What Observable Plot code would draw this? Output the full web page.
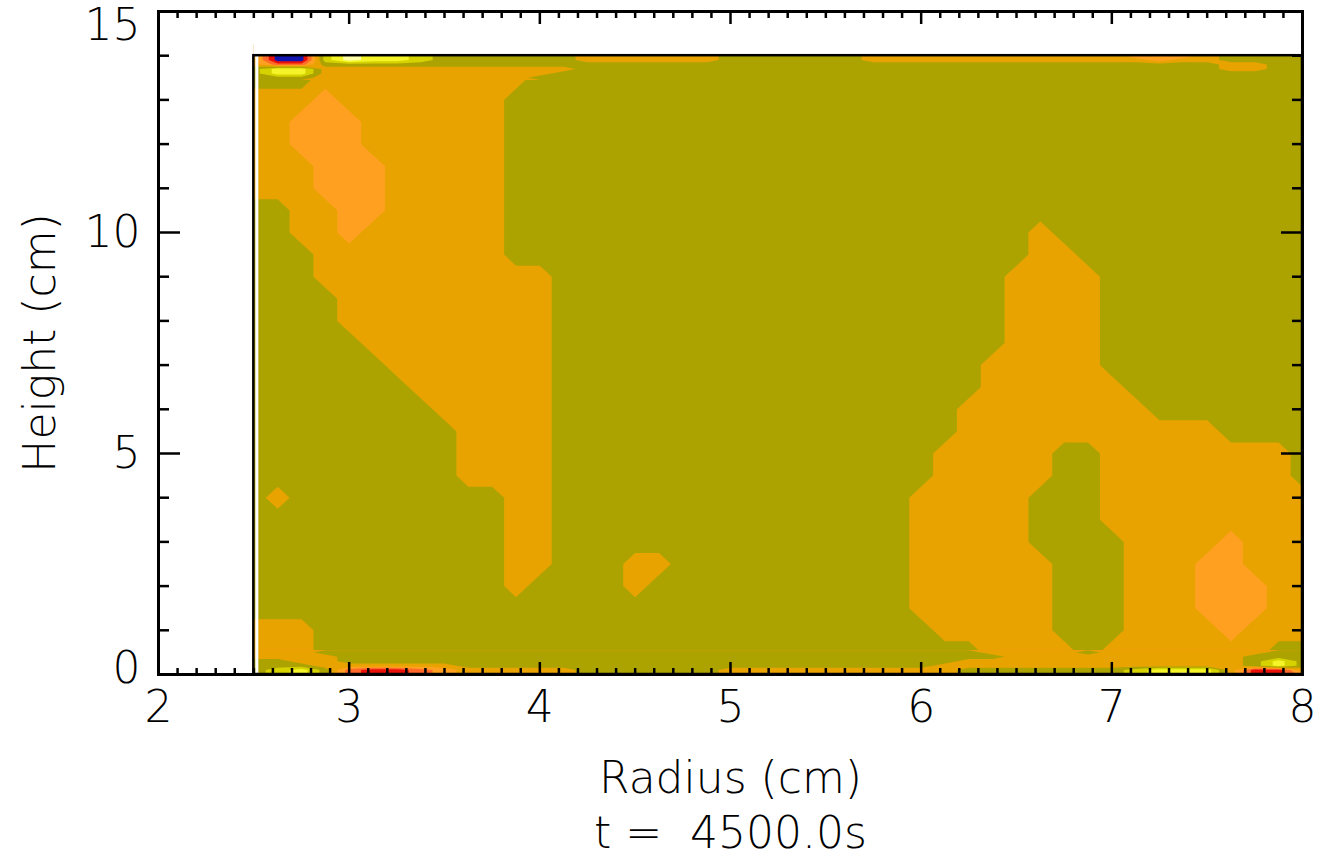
<!DOCTYPE html>
<html>
<head>
<meta charset="utf-8">
<script src="https://cdn.jsdelivr.net/npm/d3@7"></script>
<script src="https://cdn.jsdelivr.net/npm/@observablehq/plot@0.6"></script>
<style>
  html, body { margin: 0; padding: 0; background: #fff; }
  svg text { white-space: pre; }
</style>
</head>
<body>
<div id="chart"></div>
<script>
// Grid columns (radius, cm)
const radius = [2.5, 2.625, 2.75, 2.875, 3.0, 3.125, 3.25, 3.375, 3.5, 3.625, 3.75, 3.875, 4.0, 4.125, 4.25,
  4.375, 4.5, 4.625, 4.75, 4.875, 5.0, 5.125, 5.25, 5.375, 5.5, 5.625, 5.75, 5.875, 6.0, 6.125,
  6.25, 6.375, 6.5, 6.625, 6.75, 6.875, 7.0, 7.125, 7.25, 7.375, 7.5, 7.625, 7.75, 7.875, 8.0];

// Contour level of each grid cell: one string per row (bottom to top), one digit per column.
// Bottom layer, heights 0 .. 0.5 cm
const bottomHeights = [0, 0.1, 0.2, 0.3, 0.4, 0.5];
const bottomRows = [
  "56752" + "11234" + "44445" + "55555" + "44444" + "44444" + "55555" + "55678" + "74113",
  "56752" + "11234" + "44445" + "55555" + "44444" + "44444" + "55555" + "55677" + "74114",
  "55544" + "44445" + "55555" + "55555" + "55555" + "55554" + "44444" + "44444" + "44575",
  "55445" + "55555" + "55555" + "55555" + "55555" + "55555" + "44444" + "44444" + "44575",
  "44445" + "55555" + "55555" + "55555" + "55555" + "55555" + "55444" + "44444" + "44555",
  "44455" + "55555" + "55555" + "55555" + "55555" + "55555" + "54444" + "54444" + "44455"
];
// Interior, heights 0.5 .. 13.5 cm
const midHeights = [0.5, 1, 1.5, 2, 2.5, 3, 3.5, 4, 4.5, 5, 5.5, 6, 6.5, 7, 7.5, 8, 8.5,
  9, 9.5, 10, 10.5, 11, 11.5, 12, 12.5, 13, 13.5];
const midRows = [
  "44455" + "55555" + "55555" + "55555" + "55555" + "55555" + "54444" + "54444" + "44455",
  "44455" + "55555" + "55555" + "55555" + "55555" + "55554" + "44445" + "55444" + "43444",
  "55555" + "55555" + "55555" + "55555" + "55555" + "55544" + "44445" + "55444" + "33344",
  "55555" + "55555" + "54555" + "54555" + "55555" + "55544" + "44445" + "55444" + "33344",
  "55555" + "55555" + "54455" + "54455" + "55555" + "55544" + "44445" + "55444" + "33444",
  "55555" + "55555" + "54455" + "55555" + "55555" + "55544" + "44455" + "55444" + "43444",
  "55555" + "55555" + "54455" + "55555" + "55555" + "55544" + "44455" + "54444" + "44444",
  "54555" + "55555" + "54455" + "55555" + "55555" + "55544" + "44455" + "54444" + "44444",
  "55555" + "55554" + "44455" + "55555" + "55555" + "55554" + "44445" + "54444" + "44445",
  "55555" + "55554" + "44455" + "55555" + "55555" + "55554" + "44445" + "54444" + "44445",
  "55555" + "55554" + "44455" + "55555" + "55555" + "55555" + "44444" + "44444" + "45555",
  "55555" + "55544" + "44455" + "55555" + "55555" + "55555" + "44444" + "44455" + "55555",
  "55555" + "55444" + "44455" + "55555" + "55555" + "55555" + "54444" + "44555" + "55555",
  "55555" + "54444" + "44455" + "55555" + "55555" + "55555" + "54444" + "45555" + "55555",
  "55555" + "44444" + "44455" + "55555" + "55555" + "55555" + "55444" + "45555" + "55555",
  "55554" + "44444" + "44455" + "55555" + "55555" + "55555" + "55444" + "45555" + "55555",
  "55554" + "44444" + "44455" + "55555" + "55555" + "55555" + "55444" + "45555" + "55555",
  "55544" + "44444" + "44455" + "55555" + "55555" + "55555" + "55444" + "45555" + "55555",
  "55544" + "44444" + "45555" + "55555" + "55555" + "55555" + "55544" + "55555" + "55555",
  "55443" + "44444" + "45555" + "55555" + "55555" + "55555" + "55545" + "55555" + "55555",
  "55443" + "34444" + "45555" + "55555" + "55555" + "55555" + "55555" + "55555" + "55555",
  "44433" + "34444" + "45555" + "55555" + "55555" + "55555" + "55555" + "55555" + "55555",
  "44433" + "34444" + "45555" + "55555" + "55555" + "55555" + "55555" + "55555" + "55555",
  "44333" + "44444" + "45555" + "55555" + "55555" + "55555" + "55555" + "55555" + "55555",
  "44333" + "44444" + "45555" + "55555" + "55555" + "55555" + "55555" + "55555" + "55555",
  "44434" + "44444" + "45555" + "55555" + "55555" + "55555" + "55555" + "55555" + "55555",
  "55544" + "44444" + "44555" + "55555" + "55555" + "55555" + "55555" + "55555" + "55555"
];
// Top layer, heights 13.5 .. 14 cm
const topHeights = [13.5, 13.6, 13.7, 13.8, 13.9, 14];
const topRows = [
  "55544" + "44444" + "44555" + "55555" + "55555" + "55555" + "55555" + "55555" + "55555",
  "57744" + "44444" + "44455" + "55555" + "55555" + "55555" + "55555" + "55555" + "55555",
  "57744" + "44444" + "44445" + "55555" + "55555" + "55555" + "55555" + "55555" + "54455",
  "42255" + "55555" + "55555" + "55555" + "55555" + "55555" + "55555" + "55555" + "54455",
  "40068" + "77655" + "55554" + "44444" + "55555" + "54444" + "44444" + "44434" + "45555",
  "40068" + "77655" + "55554" + "44444" + "55555" + "54444" + "44444" + "44333" + "45555"
];

// Contour thresholds and their fill colours (lowest to highest)
const thresholds = [-0.5, 0.5, 1.5, 2.5, 3.5, 4.5, 5.5, 6.5, 7.5];
const levelColors = ["#1414b0", "#e81008", "#ff6a2a", "#ffa020", "#e8a300", "#ada300", "#d6d200", "#f4f428", "#ffffa8"];

// Axis ticks and texts
const xMajor = [2, 3, 4, 5, 6, 7, 8];
const xMinor = d3.range(21, 80).filter(d => d % 10 !== 0).map(d => d / 10);
const yMajor = [0, 5, 10, 15];
const yMinor = [1, 2, 3, 4, 6, 7, 8, 9, 11, 12, 13, 14];
const xTitle = "Radius (cm)";
const yTitle = "Height (cm)";
const caption = "t =  4500.0s";

// One filled-contour layer from a uniform block of rows (samples at cell centres)
function contourLayer(rows, hs) {
  const n = radius.length;
  const values = rows.flatMap(row => Array.from(row, c => +c));
  const dx = (radius[n - 1] - radius[0]) / (n - 1);
  const dy = (hs[hs.length - 1] - hs[0]) / (hs.length - 1);
  return Plot.contour(values, {
    width: n, height: rows.length,
    x1: radius[0] - dx / 2, x2: radius[n - 1] + dx / 2,
    y1: hs[0] - dy / 2, y2: hs[hs.length - 1] + dy / 2,
    fill: Plot.identity, thresholds, stroke: "none", clip: true
  });
}
// Interior layer also spans the bottom and top edges (covered by the finer layers)
const mainRows = [bottomRows[0], ...midRows, topRows[topRows.length - 1]];
const mainHeights = [0, ...midHeights, 14];
const x0 = radius[0], xEnd = radius[radius.length - 1];
const h0 = bottomHeights[0], hEnd = topHeights[topHeights.length - 1];

const FONT = "DejaVu Sans";
const FS = 44;
const blank = () => "";

const chart = Plot.plot({
  width: 1330,
  height: 858,
  marginLeft: 158,
  marginRight: 28,
  marginTop: 11,
  marginBottom: 184,
  style: {fontFamily: FONT, fontSize: FS + "px", fontWeight: 200, background: "#fff", color: "#000"},
  x: {domain: [2, 8], label: null, axis: null},
  y: {domain: [0, 15], label: null, axis: null},
  color: {type: "ordinal", domain: thresholds, range: levelColors},
  marks: [
    contourLayer(mainRows, mainHeights),
    contourLayer(bottomRows, bottomHeights),
    contourLayer(topRows, topHeights),
    // keep the empty part of the frame white (outside the sampled region)
    Plot.rect([0], {x1: 2, x2: () => x0, y1: 0, y2: 15, fill: "#fff"}),
    Plot.rect([0], {x1: () => x0, x2: 8, y1: () => hEnd, y2: 15, fill: "#fff"}),
    // thin white gap inside the left edge of the sampled region
    Plot.ruleX([x0], {y1: h0, y2: hEnd, dx: 3, stroke: "#fff", strokeWidth: 3}),
    // outline of the sampled region
    Plot.rect([0], {
      x1: () => x0, x2: () => xEnd, y1: () => h0, y2: () => hEnd,
      fill: "none", stroke: "#000", strokeWidth: 2.5
    }),
    Plot.frame({stroke: "#000", strokeWidth: 3}),
    // bottom ticks (inward)
    Plot.axisX(xMajor, {anchor: "bottom", tickSize: 12, dy: -12, tickFormat: blank, strokeWidth: 2.5, label: null}),
    Plot.axisX(xMinor, {anchor: "bottom", tickSize: 6, dy: -6, tickFormat: blank, strokeWidth: 2.5, label: null}),
    // top ticks (inward)
    Plot.axisX(xMajor, {anchor: "top", tickSize: 12, dy: 12, tickFormat: blank, strokeWidth: 2.5, label: null}),
    Plot.axisX(xMinor, {anchor: "top", tickSize: 6, dy: 6, tickFormat: blank, strokeWidth: 2.5, label: null}),
    // left ticks (inward)
    Plot.axisY(yMajor, {anchor: "left", tickSize: 22, dx: 22, tickFormat: blank, strokeWidth: 2.5, label: null}),
    Plot.axisY(yMinor, {anchor: "left", tickSize: 11, dx: 11, tickFormat: blank, strokeWidth: 2.5, label: null}),
    // right ticks (inward)
    Plot.axisY(yMajor, {anchor: "right", tickSize: 22, dx: -22, tickFormat: blank, strokeWidth: 2.5, label: null}),
    Plot.axisY(yMinor, {anchor: "right", tickSize: 11, dx: -11, tickFormat: blank, strokeWidth: 2.5, label: null}),
    // tick labels
    Plot.axisX(xMajor, {anchor: "bottom", tickSize: 0, tickPadding: 16, tickFormat: d => String(d), fontSize: FS, label: null}),
    Plot.axisY(yMajor.filter(d => d === 0), {anchor: "left", tickSize: 0, tickPadding: 18, dy: -6, tickFormat: d => String(d), fontSize: FS, label: null}),
    Plot.axisY(yMajor.filter(d => d > 0 && d < 15), {anchor: "left", tickSize: 0, tickPadding: 18, tickFormat: d => String(d), fontSize: FS, label: null}),
    Plot.axisY(yMajor.filter(d => d === 15), {anchor: "left", tickSize: 0, tickPadding: 18, dy: 14, tickFormat: d => String(d), fontSize: FS, label: null}),
    // titles
    Plot.text([xTitle], {text: d => d, frameAnchor: "bottom", dy: 104, lineAnchor: "middle", textAnchor: "middle", fontSize: FS}),
    Plot.text([caption], {text: d => d, frameAnchor: "bottom", dy: 159, lineAnchor: "middle", textAnchor: "middle", fontSize: FS}),
    Plot.text([yTitle], {text: d => d, frameAnchor: "left", dx: -118, rotate: -90, lineAnchor: "middle", textAnchor: "middle", fontSize: FS})
  ]
});
document.getElementById("chart").appendChild(chart);
</script>
</body>
</html>
